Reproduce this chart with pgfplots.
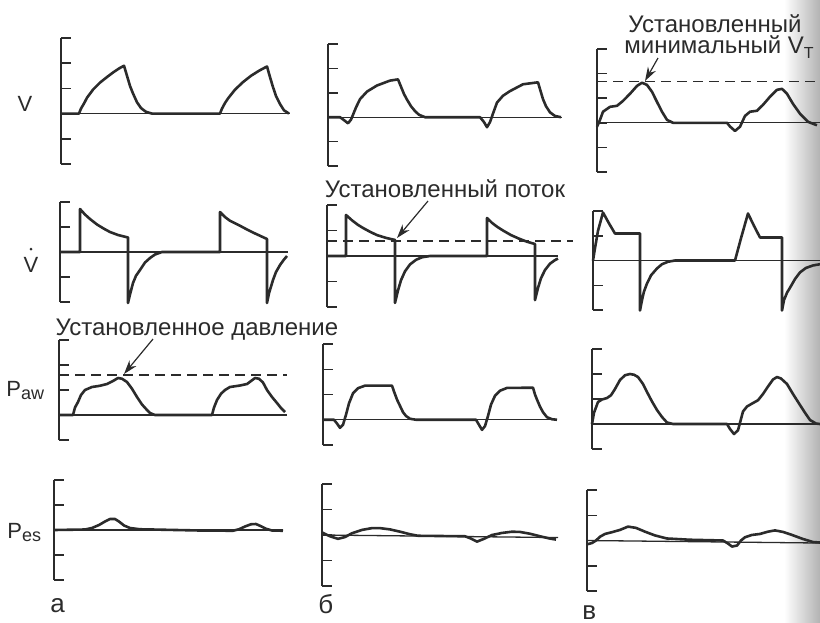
\documentclass[border=0pt]{standalone}
\usepackage{fontspec}
\setmainfont{Liberation Sans}
\usepackage{pgfplots}
\pgfplotsset{compat=1.18}
\usetikzlibrary{arrows.meta}
\definecolor{ink}{HTML}{2B2B2B}

% one small panel: y axis with inward ticks, no x axis
\pgfplotsset{
  panel/.style={scale only axis, anchor=south west,
    axis x line=none, axis y line=left,
    axis line style={-, line width=0.75pt, ink},
    xtick=\empty, yticklabels={},
    tick align=inside, major tick length=5pt,
    tick style={line width=0.75pt, ink},
    enlargelimits=false, clip=false},
  wave/.style={ink, line width=1.3pt, line join=round, no marks},
  base/.style={ink, line width=0.65pt, no marks},
  setline/.style={ink, line width=0.65pt, dash pattern=on 5pt off 3pt, no marks},
}

\begin{document}
\begin{tikzpicture}
\path[use as bounding box] (0,0) rectangle (410pt,-311pt);
\shade[left color=white, right color=black!30] (392pt,0) rectangle (410pt,-311pt);

% ---------- row 1: V ----------
\begin{axis}[panel, at={(30.5pt,-82pt)}, width=114.5pt, height=63pt,
  xmin=61, xmax=290, ymin=-2, ymax=3, ytick={-2,...,3}]
\addplot[base] coordinates {(61,0) (290,0)};
\addplot[wave] coordinates {(61,0) (79,0) (81,0.2) (84,0.4) (87,0.63) (93,0.95) (100,1.23) (107,1.45) (113,1.63) (119,1.79) (124,1.9) (127,1.5) (130,1.1) (133,0.8) (137,0.45) (141,0.22) (146,0.07) (152,0) (220,0) (222,0.2) (225,0.42) (228,0.6) (235,0.95) (243,1.25) (251,1.5) (259,1.7) (267,1.87) (270,1.45) (273,1.05) (276,0.7) (280,0.38) (284,0.13) (289,0)};
\end{axis}

\begin{axis}[panel, at={(164pt,-83pt)}, width=117pt, height=61pt,
  xmin=328, xmax=562, ymin=-2, ymax=3, ytick={-2,...,3}]
\addplot[base] coordinates {(328,0) (562,0)};
\addplot[wave] coordinates {(328,0) (340,0) (344,-0.12) (348,-0.25) (351,-0.1) (353,0.1) (356,0.4) (360,0.74) (367,1.05) (377,1.3) (390,1.5) (398,1.55) (401,1.25) (404,0.95) (407,0.72) (411,0.45) (415,0.25) (419,0.1) (425,0) (480,0) (484,-0.2) (487,-0.41) (490,-0.2) (493,0.15) (497,0.6) (503,0.88) (510,1.07) (523,1.35) (538,1.43) (540,1.15) (543,0.74) (546,0.45) (550,0.2) (555,0.05) (561,0)};
\end{axis}

\begin{axis}[panel, at={(298.5pt,-86pt)}, width=111.5pt, height=61.5pt,
  xmin=597, xmax=820, ymin=-2, ymax=3, ytick={-2,...,3}]
\addplot[base] coordinates {(597,0) (820,0)};
\addplot[setline] coordinates {(597,1.67) (820,1.67)};
\addplot[wave] coordinates {(597,-0.16) (600,0.12) (603,0.45) (610,0.65) (617,0.69) (623,0.89) (630,1.18) (637,1.5) (642,1.63) (647,1.54) (652,1.26) (657,0.85) (662,0.45) (667,0.12) (673,0) (727,0) (730,-0.15) (735,-0.33) (740,-0.16) (745,0.28) (750,0.45) (757,0.49) (763,0.73) (770,1.06) (777,1.34) (782,1.38) (787,1.18) (793,0.77) (800,0.37) (808,0.04) (817,-0.1)};
\end{axis}

% ---------- row 2: flow ----------
\begin{axis}[panel, at={(30pt,-151pt)}, width=114pt, height=50pt,
  xmin=60, xmax=288, ymin=-2, ymax=2, ytick={-2,...,2}]
\addplot[base] coordinates {(60,0) (288,0)};
\addplot[wave] coordinates {(60,0) (80,0) (80,1.72) (85,1.5) (90,1.32) (97,1.1) (104,0.93) (110,0.8) (118,0.68) (128,0.58) (128,-2.04) (130,-1.7) (133,-1.24) (136,-0.95) (140,-0.72) (145,-0.42) (150,-0.24) (155,-0.1) (162,0) (220,0) (220,1.6) (225,1.4) (230,1.25) (240,1.05) (247,0.9) (253,0.78) (260,0.65) (267,0.52) (267,-2.04) (269,-1.65) (273,-1.12) (276,-0.8) (280,-0.52) (284,-0.3) (287,-0.16)};
\end{axis}

\begin{axis}[panel, at={(163.5pt,-153.5pt)}, width=115.5pt, height=51pt,
  xmin=327, xmax=558, ymin=-2, ymax=2, ytick={-2,...,2}]
\addplot[base] coordinates {(327,0) (558,0)};
\addplot[setline] coordinates {(327,0.59) (573,0.59)};
\addplot[wave] coordinates {(327,0) (346,0) (346,1.61) (352,1.4) (358,1.22) (363,1.1) (370,0.95) (377,0.82) (386,0.71) (395,0.63) (395,-1.84) (398,-1.35) (401,-0.95) (405,-0.6) (410,-0.33) (416,-0.15) (422,-0.05) (430,0) (487,0) (487,1.49) (492,1.3) (497,1.15) (503,1.0) (511,0.82) (519,0.68) (527,0.56) (535,0.47) (535,-1.73) (538,-1.25) (541,-0.87) (545,-0.55) (550,-0.3) (555,-0.16) (558,-0.1)};
\end{axis}

\begin{axis}[panel, at={(296.5pt,-155pt)}, width=113.5pt, height=49.5pt,
  xmin=593, xmax=820, ymin=-2, ymax=2, ytick={-2,...,2}]
\addplot[base] coordinates {(593,0) (820,0)};
\addplot[wave] coordinates {(593,0) (595,0.5) (598,1.2) (603,1.94) (609,1.5) (615,1.09) (640,1.09) (640,-2.02) (642,-1.6) (644,-1.25) (647,-0.93) (651,-0.6) (657,-0.32) (662,-0.15) (668,-0.05) (675,0) (735,0) (741,0.9) (748,1.9) (754,1.4) (760,0.93) (782,0.93) (782,-2.02) (784,-1.6) (787,-1.3) (790,-1.1) (795,-0.75) (800,-0.48) (806,-0.3) (813,-0.2) (820,-0.15)};
\end{axis}

% ---------- row 3: airway pressure ----------
\begin{axis}[panel, at={(29.5pt,-220pt)}, width=114pt, height=50pt,
  xmin=59, xmax=287, ymin=-1, ymax=3, ytick={-1,...,3}]
\addplot[base] coordinates {(59,0) (287,0)};
\addplot[setline] coordinates {(59,1.6) (287,1.6)};
\addplot[wave] coordinates {(59,0) (73,0) (75,0.3) (78,0.52) (81,0.8) (85,1.0) (92,1.12) (100,1.17) (107,1.24) (113,1.36) (118,1.48) (122,1.45) (127,1.32) (132,1.05) (137,0.72) (142,0.42) (147,0.2) (150,0.08) (155,0) (212,0) (214,0.3) (217,0.6) (221,0.85) (225,1.0) (230,1.12) (240,1.18) (247,1.24) (251,1.36) (255,1.48) (259,1.45) (263,1.3) (267,1.0) (272,0.72) (277,0.48) (281,0.28) (285,0.12)};
\end{axis}

\begin{axis}[panel, at={(161.5pt,-222.5pt)}, width=117pt, height=50.5pt,
  xmin=323, xmax=557, ymin=-1, ymax=3, ytick={-1,...,3}]
\addplot[base] coordinates {(323,0) (557,0)};
\addplot[wave] coordinates {(323,0) (334,0) (337,-0.15) (340,-0.32) (343,-0.2) (346,0.2) (349,0.65) (353,1.05) (358,1.25) (365,1.35) (392,1.35) (394,1.12) (397,0.8) (400,0.55) (403,0.3) (406,0.15) (410,0.04) (416,0) (476,0) (479,-0.2) (482,-0.4) (485,-0.25) (488,0.15) (491,0.6) (495,0.95) (500,1.15) (507,1.26) (533,1.27) (535,1.0) (537,0.8) (540,0.52) (543,0.3) (547,0.1) (552,0.02) (557,0)};
\end{axis}

\begin{axis}[panel, at={(296pt,-224.5pt)}, width=114pt, height=50pt,
  xmin=592, xmax=820, ymin=-1, ymax=3, ytick={-1,...,3}]
\addplot[base] coordinates {(592,0) (820,0)};
\addplot[wave] coordinates {(592,0) (594,0.45) (598,0.88) (602,0.98) (607,1.04) (611,1.15) (615,1.4) (620,1.76) (625,1.95) (630,2.0) (634,1.97) (638,1.88) (643,1.6) (647,1.28) (652,0.9) (657,0.56) (662,0.28) (667,0.06) (673,0) (727,0) (730,-0.2) (734,-0.4) (738,-0.25) (741,0.2) (743,0.5) (747,0.7) (753,0.84) (758,0.95) (763,1.2) (768,1.5) (773,1.78) (777,1.88) (781,1.82) (787,1.6) (793,1.2) (800,0.76) (805,0.45) (810,0.16) (816,0.02) (820,0)};
\end{axis}

% ---------- row 4: oesophageal pressure ----------
\begin{axis}[panel, at={(27pt,-290pt)}, width=114.5pt, height=50pt,
  xmin=54, xmax=283, ymin=-2, ymax=2, ytick={-2,...,2}]
\addplot[base] coordinates {(54,0) (283,0)};
\addplot[wave] coordinates {(54,0) (85,0.02) (92,0.08) (99,0.2) (105,0.34) (110,0.44) (115,0.44) (119,0.34) (124,0.18) (130,0.08) (140,0.03) (200,-0.02) (233,-0.03) (239,0.03) (245,0.14) (251,0.23) (256,0.24) (261,0.15) (266,0.05) (272,-0.02) (283,-0.03)};
\end{axis}

\begin{axis}[panel, at={(161pt,-293pt)}, width=118pt, height=51pt,
  xmin=322, xmax=558, ymin=-2, ymax=2, ytick={-2,...,2}]
\addplot[base] coordinates {(322,0) (558,-0.1)};
\addplot[wave] coordinates {(322,0.1) (330,-0.05) (338,-0.15) (345,-0.08) (352,0.07) (362,0.2) (372,0.27) (380,0.27) (390,0.22) (400,0.13) (410,0.03) (418,-0.03) (465,-0.05) (471,-0.14) (477,-0.26) (484,-0.15) (492,0.0) (502,0.08) (512,0.13) (520,0.12) (530,0.05) (540,-0.05) (550,-0.14) (556,-0.18)};
\end{axis}

\begin{axis}[panel, at={(293.5pt,-295.5pt)}, width=116.5pt, height=50.5pt,
  xmin=587, xmax=820, ymin=-2, ymax=2, ytick={-2,...,2}]
\addplot[base] coordinates {(587,0) (820,-0.1)};
\addplot[wave] coordinates {(587,-0.15) (592,-0.1) (596,0.0) (600,0.15) (605,0.26) (612,0.33) (620,0.42) (628,0.55) (636,0.5) (645,0.35) (655,0.2) (667,0.08) (690,0.03) (723,0.0) (728,-0.12) (732,-0.24) (737,-0.2) (741,0.0) (745,0.13) (752,0.22) (760,0.26) (768,0.35) (775,0.4) (783,0.34) (792,0.22) (803,0.06) (813,-0.06) (820,-0.08)};
\end{axis}

% ---------- labels and arrows ----------
\begin{scope}[x=0.5pt, y=-0.5pt, every node/.style={inner sep=0pt, text=ink}]
\node[anchor=base, font=\fontsize{12}{14}\selectfont] at (715,32) {Установленный};
\node[anchor=base, font=\fontsize{12}{14}\selectfont] at (719,53) {минимальный V\raisebox{-0.45ex}{\fontsize{8}{9}\selectfont T}};
\draw[ink, line width=0.6pt, -{Stealth[length=7pt,width=4.5pt]}] (658,58) -- (645,81);
\node[anchor=base, font=\fontsize{12}{14}\selectfont] at (445,197) {Установленный поток};
\draw[ink, line width=0.6pt, -{Stealth[length=7pt,width=4.5pt]}] (428,201) -- (397,238);
\node[anchor=base, font=\fontsize{12}{14}\selectfont] at (197,335) {Установленное давление};
\draw[ink, line width=0.6pt, -{Stealth[length=7pt,width=4.5pt]}] (153,339) -- (124,374);

\node[font=\fontsize{11}{13}\selectfont] at (25,104) {V};
\node[font=\fontsize{11}{13}\selectfont] at (31,265) {V};
\fill[ink] (31,249) circle (1.5);
\node[anchor=base west, font=\fontsize{11}{13}\selectfont] at (6,396) {P\raisebox{-0.3ex}{\fontsize{9}{10}\selectfont aw}};
\node[anchor=base west, font=\fontsize{11}{13}\selectfont] at (7,538) {P\raisebox{-0.3ex}{\fontsize{9}{10}\selectfont es}};

\node[anchor=base west, font=\fontsize{13}{15}\selectfont] at (50,612) {а};
\node[anchor=base west, font=\fontsize{13}{15}\selectfont] at (318,613) {б};
\node[anchor=base west, font=\fontsize{13}{15}\selectfont] at (582,619) {в};
\end{scope}
\end{tikzpicture}
\end{document}
